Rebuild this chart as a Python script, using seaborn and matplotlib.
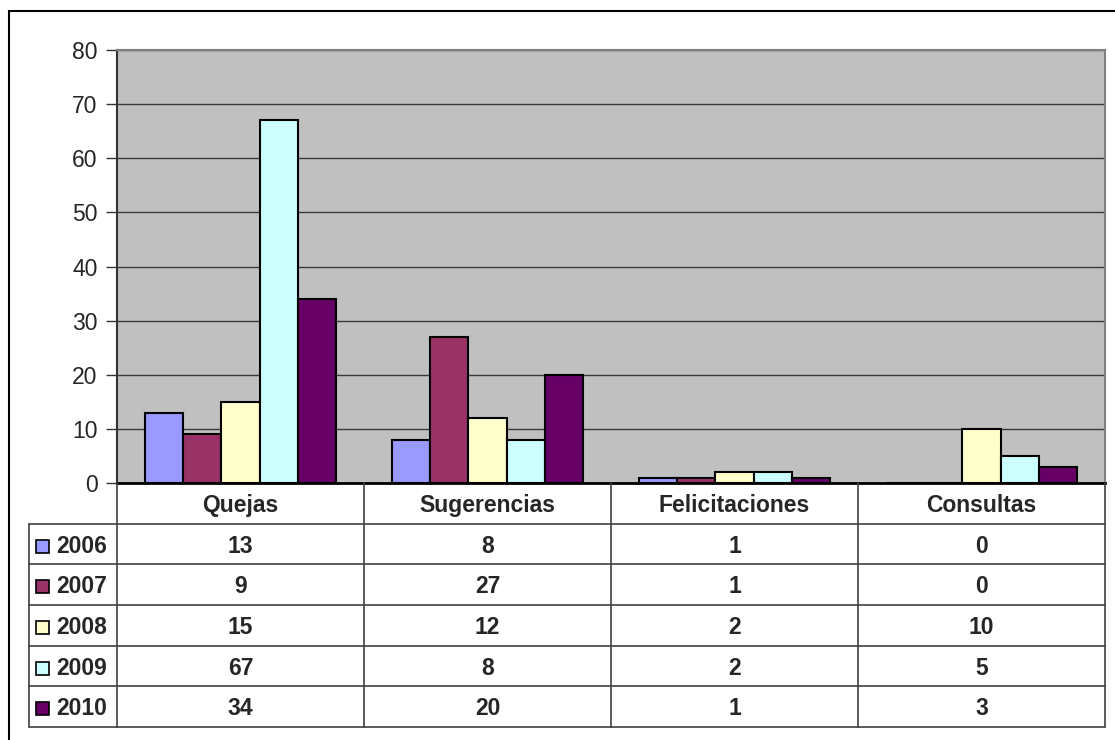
import seaborn as sns
import matplotlib.pyplot as plt
import pandas as pd
from matplotlib.patches import Rectangle

# datos
categorias = ['Quejas', 'Sugerencias', 'Felicitaciones', 'Consultas']
anios = ['2006', '2007', '2008', '2009', '2010']
valores_2006 = [13, 8, 1, 0]
valores_2007 = [9, 27, 1, 0]
valores_2008 = [15, 12, 2, 10]
valores_2009 = [67, 8, 2, 5]
valores_2010 = [34, 20, 1, 3]
colores = ['#9999FF', '#993366', '#FFFFCC', '#CCFFFF', '#660066']
y_ticks = [0, 10, 20, 30, 40, 50, 60, 70, 80]

series = [valores_2006, valores_2007, valores_2008, valores_2009, valores_2010]
filas = []
for anio, vals in zip(anios, series):
    for cat, v in zip(categorias, vals):
        filas.append({'Categoria': cat, 'Anio': anio, 'Valor': v})
df = pd.DataFrame(filas)

sns.set_style('white')
plt.rcParams['font.family'] = ['Liberation Sans', 'DejaVu Sans']

W, H = 1115, 740
fig = plt.figure(figsize=(W / 100, H / 100), dpi=100)

# area del grafico de barras
ax = fig.add_axes([117 / W, 1 - 483 / H, (1105 - 117) / W, (483 - 50) / H])
sns.barplot(data=df, x='Categoria', y='Valor', hue='Anio', order=categorias,
            hue_order=anios, palette=colores, saturation=1, width=0.775,
            edgecolor='black', linewidth=1.5, legend=False, ax=ax)
ax.set_xlim(-0.5, 3.5)
ax.set_ylim(0, 80)
ax.set_yticks(y_ticks)
ax.set_xticks([])
ax.set_xlabel('')
ax.set_ylabel('')
ax.set_facecolor('#C0C0C0')
ax.grid(axis='y', color='#3a3a3a', lw=1)
ax.set_axisbelow(True)
ax.tick_params(axis='y', left=True, length=8, width=1, color='#333333',
               labelsize=16.5, pad=6)
for s in ['top', 'right']:
    ax.spines[s].set_color('#808080')
    ax.spines[s].set_linewidth(1.5)
ax.spines['left'].set_color('#333333')
ax.spines['left'].set_linewidth(1.5)
ax.spines['bottom'].set_color('black')
ax.spines['bottom'].set_linewidth(2)

# tabla de datos debajo
tax = fig.add_axes([117 / W, 1 - 727 / H, (1105 - 117) / W, (727 - 483) / H])
tax.set_xlim(-0.5, 3.5)
tax.set_ylim(6, 0)
tax.axis('off')
col_px = (1105 - 117) / 4
ancho_lbl = 88 / col_px
x0 = -0.5 - ancho_lbl
color_linea = '#404040'

for r in range(1, 7):
    tax.plot([x0, 3.5], [r, r], color=color_linea, lw=1.2, clip_on=False)
for i in range(5):
    tax.plot([i - 0.5, i - 0.5], [0, 6], color=color_linea, lw=1.2, clip_on=False)
tax.plot([x0, x0], [1, 6], color=color_linea, lw=1.2, clip_on=False)

for i, cat in enumerate(categorias):
    tax.text(i, 0.55, cat, ha='center', va='center', fontsize=16.5, fontweight='bold')

fila_px = 244 / 6
for r, (anio, vals, c) in enumerate(zip(anios, series, colores), start=1):
    sw_w = 13 / col_px
    sw_h = 13 / fila_px
    tax.add_patch(Rectangle((x0 + 7 / col_px, r + 0.55 - sw_h / 2), sw_w, sw_h,
                            facecolor=c, edgecolor='black', lw=1.2, clip_on=False))
    tax.text(x0 + 27 / col_px, r + 0.55, anio, ha='left', va='center',
             fontsize=16.5, fontweight='bold')
    for i, v in enumerate(vals):
        tax.text(i, r + 0.55, str(v), ha='center', va='center',
                 fontsize=16.5, fontweight='bold')

# marco exterior
fig.patches.append(Rectangle((9 / W, -0.01), 1, 1 - 11 / H + 0.01,
                             transform=fig.transFigure, fill=False,
                             edgecolor='black', lw=1.5))

fig.savefig('out.png', dpi=100)
